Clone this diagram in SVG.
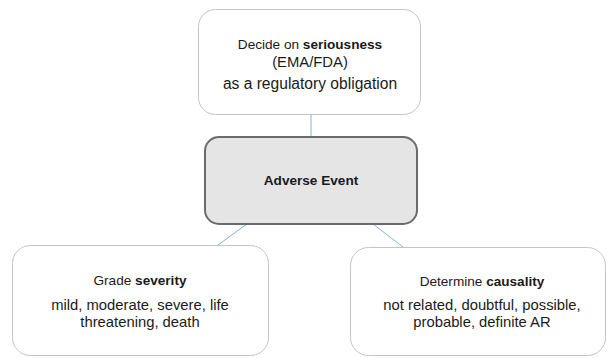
<svg xmlns="http://www.w3.org/2000/svg" width="607" height="358" viewBox="0 0 607 358">
<style>
.box{fill:#fff;stroke:#c4c4c4;stroke-width:1}
.core{fill:#e6e5e6;stroke:#6b6b6b;stroke-width:2}
.t{font-family:"Liberation Sans",Arial,sans-serif;font-size:13.6px;fill:#1a1a1a;text-anchor:middle}
.d{font-size:14.8px}
.b{font-weight:bold}
.c{stroke:#8bb0cf;stroke-width:1;fill:none}
</style>
<rect width="607" height="358" fill="#fff"/>
<g id="connectors">
<line class="c" x1="311" y1="115" x2="311" y2="137"/>
<line class="c" x1="247" y1="224" x2="218" y2="245"/>
<line class="c" x1="373" y1="224" x2="403" y2="247"/>
</g>
<g id="seriousness">
<rect class="box" x="198.5" y="9.5" width="222" height="105" rx="17"/>
<text class="t" x="310" y="49">Decide on <tspan class="b">seriousness</tspan></text>
<text class="t" x="310" y="67" style="font-size:14.8px">(EMA/FDA)</text>
<text class="t d" x="310" y="89" style="font-size:15.6px">as a regulatory obligation</text>
</g>
<g id="adverse-event">
<rect class="core" x="205" y="137" width="212" height="87" rx="14"/>
<text class="t b" x="311" y="185">Adverse Event</text>
</g>
<g id="severity">
<rect class="box" x="12.5" y="245.5" width="256" height="110" rx="18"/>
<text class="t" x="140" y="285">Grade <tspan class="b">severity</tspan></text>
<text class="t d" x="140" y="310">mild, moderate, severe, life</text>
<text class="t d" x="140" y="327">threatening, death</text>
</g>
<g id="causality">
<rect class="box" x="350.5" y="247.5" width="255" height="108" rx="18"/>
<text class="t" x="482" y="286">Determine <tspan class="b">causality</tspan></text>
<text class="t d" x="482" y="310">not related, doubtful, possible,</text>
<text class="t d" x="482" y="327">probable, definite AR</text>
</g>
</svg>
